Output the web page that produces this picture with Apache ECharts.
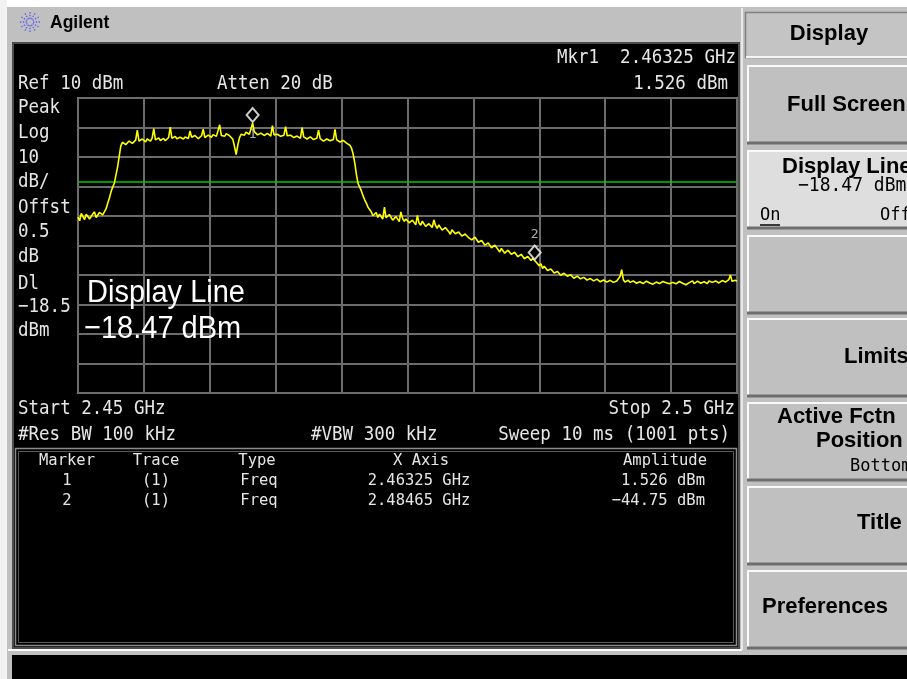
<!DOCTYPE html>
<html>
<head>
<meta charset="utf-8">
<script src="https://cdn.jsdelivr.net/npm/echarts@6/dist/echarts.min.js"></script>
<style>
html,body{margin:0;padding:0;background:#c0c0c0;overflow:hidden;}
#c{width:907px;height:679px;}
</style>
</head>
<body>
<div id="c"></div>
<script>
// ---------------- DATA ----------------
// Sweep frequencies (MHz), 0.125 MHz apart
const freqMHz = [
2450,2450.125,2450.25,2450.375,2450.5,2450.625,2450.75,2450.875,
2451,2451.125,2451.25,2451.375,2451.5,2451.625,2451.75,2451.875,
2452,2452.125,2452.25,2452.375,2452.5,2452.625,2452.75,2452.875,
2453,2453.125,2453.25,2453.375,2453.5,2453.625,2453.75,2453.875,
2454,2454.125,2454.25,2454.375,2454.5,2454.625,2454.75,2454.875,
2455,2455.125,2455.25,2455.375,2455.5,2455.625,2455.75,2455.875,
2456,2456.125,2456.25,2456.375,2456.5,2456.625,2456.75,2456.875,
2457,2457.125,2457.25,2457.375,2457.5,2457.625,2457.75,2457.875,
2458,2458.125,2458.25,2458.375,2458.5,2458.625,2458.75,2458.875,
2459,2459.125,2459.25,2459.375,2459.5,2459.625,2459.75,2459.875,
2460,2460.125,2460.25,2460.375,2460.5,2460.625,2460.75,2460.875,
2461,2461.125,2461.25,2461.375,2461.5,2461.625,2461.75,2461.875,
2462,2462.125,2462.25,2462.375,2462.5,2462.625,2462.75,2462.875,
2463,2463.125,2463.25,2463.375,2463.5,2463.625,2463.75,2463.875,
2464,2464.125,2464.25,2464.375,2464.5,2464.625,2464.75,2464.875,
2465,2465.125,2465.25,2465.375,2465.5,2465.625,2465.75,2465.875,
2466,2466.125,2466.25,2466.375,2466.5,2466.625,2466.75,2466.875,
2467,2467.125,2467.25,2467.375,2467.5,2467.625,2467.75,2467.875,
2468,2468.125,2468.25,2468.375,2468.5,2468.625,2468.75,2468.875,
2469,2469.125,2469.25,2469.375,2469.5,2469.625,2469.75,2469.875,
2470,2470.125,2470.25,2470.375,2470.5,2470.625,2470.75,2470.875,
2471,2471.125,2471.25,2471.375,2471.5,2471.625,2471.75,2471.875,
2472,2472.125,2472.25,2472.375,2472.5,2472.625,2472.75,2472.875,
2473,2473.125,2473.25,2473.375,2473.5,2473.625,2473.75,2473.875,
2474,2474.125,2474.25,2474.375,2474.5,2474.625,2474.75,2474.875,
2475,2475.125,2475.25,2475.375,2475.5,2475.625,2475.75,2475.875,
2476,2476.125,2476.25,2476.375,2476.5,2476.625,2476.75,2476.875,
2477,2477.125,2477.25,2477.375,2477.5,2477.625,2477.75,2477.875,
2478,2478.125,2478.25,2478.375,2478.5,2478.625,2478.75,2478.875,
2479,2479.125,2479.25,2479.375,2479.5,2479.625,2479.75,2479.875,
2480,2480.125,2480.25,2480.375,2480.5,2480.625,2480.75,2480.875,
2481,2481.125,2481.25,2481.375,2481.5,2481.625,2481.75,2481.875,
2482,2482.125,2482.25,2482.375,2482.5,2482.625,2482.75,2482.875,
2483,2483.125,2483.25,2483.375,2483.5,2483.625,2483.75,2483.875,
2484,2484.125,2484.25,2484.375,2484.5,2484.625,2484.75,2484.875,
2485,2485.125,2485.25,2485.375,2485.5,2485.625,2485.75,2485.875,
2486,2486.125,2486.25,2486.375,2486.5,2486.625,2486.75,2486.875,
2487,2487.125,2487.25,2487.375,2487.5,2487.625,2487.75,2487.875,
2488,2488.125,2488.25,2488.375,2488.5,2488.625,2488.75,2488.875,
2489,2489.125,2489.25,2489.375,2489.5,2489.625,2489.75,2489.875,
2490,2490.125,2490.25,2490.375,2490.5,2490.625,2490.75,2490.875,
2491,2491.125,2491.25,2491.375,2491.5,2491.625,2491.75,2491.875,
2492,2492.125,2492.25,2492.375,2492.5,2492.625,2492.75,2492.875,
2493,2493.125,2493.25,2493.375,2493.5,2493.625,2493.75,2493.875,
2494,2494.125,2494.25,2494.375,2494.5,2494.625,2494.75,2494.875,
2495,2495.125,2495.25,2495.375,2495.5,2495.625,2495.75,2495.875,
2496,2496.125,2496.25,2496.375,2496.5,2496.625,2496.75,2496.875,
2497,2497.125,2497.25,2497.375,2497.5,2497.625,2497.75,2497.875,
2498,2498.125,2498.25,2498.375,2498.5,2498.625,2498.75,2498.875,
2499,2499.125,2499.25,2499.375,2499.5,2499.625,2499.75,2499.875,
2500
];
// Trace 1 amplitude (dBm)
const ampDbm = [
-30.4,-31.6,-29.1,-30.2,-31.2,-29.4,-29.8,-31.0,
-30.9,-29.3,-28.6,-30.5,-30.1,-28.8,-28.2,-29.6,
-29.0,-27.6,-25.8,-24.0,-21.9,-20.3,-19.0,-16.2,
-13.5,-9.8,-6.2,-5.0,-4.9,-5.8,-5.3,-4.6,
-4.4,-5.4,-5.0,-4.3,-0.9,-4.6,-4.8,-3.9,
-4.5,-4.9,-3.9,-4.3,-4.6,-3.6,-0.4,-4.2,
-4.0,-3.5,-4.4,-3.8,-3.7,-4.5,-4.2,-3.4,
0.1,-3.7,-3.6,-3.0,-3.8,-4.1,-3.3,-2.8,
-3.9,-3.2,-2.9,-3.7,-1.2,-3.3,-3.5,-2.7,
-3.0,-3.8,-3.6,-2.8,-0.6,-3.4,-3.1,-2.6,
-2.9,-3.3,-2.4,-2.1,-3.0,-2.5,0.9,-2.7,
-2.6,-3.0,-2.1,-2.5,-2.8,-2.2,-4.0,-6.5,
-9.2,-6.0,-3.5,-2.3,-2.0,-2.6,-1.6,-2.2,
-2.3,-1.8,1.526,-1.4,-1.7,-2.5,-2.4,-1.9,
-1.9,-2.7,-2.6,-2.0,-2.2,-2.9,0.6,-2.5,
-2.9,-2.3,-2.4,-3.0,-3.1,-2.6,0.3,-2.8,
-3.3,-2.6,-2.7,-3.4,-3.6,-2.9,-3.0,-3.7,
0.0,-3.2,-3.4,-3.9,-3.9,-3.2,-3.3,-4.1,
-4.2,-3.6,-0.9,-3.8,-4.0,-4.6,-4.5,-3.9,
-3.9,-4.5,-4.7,-4.1,-0.6,-4.2,-4.4,-4.9,
-4.8,-4.4,-5.0,-5.3,-5.6,-6.0,-7.0,-9.0,
-12.0,-16.0,-19.0,-20.2,-21.5,-23.1,-24.5,-25.6,
-27.0,-27.8,-28.6,-29.9,-29.6,-28.8,-30.5,-29.4,
-29.9,-31.0,-27.0,-30.6,-31.2,-29.5,-30.1,-31.4,
-31.6,-30.2,-30.4,-31.9,-28.6,-30.8,-31.8,-31.0,
-31.0,-32.3,-32.6,-31.4,-31.9,-33.0,-29.8,-32.4,
-33.1,-31.8,-32.2,-33.5,-33.8,-32.6,-32.5,-33.9,
-31.3,-33.2,-34.2,-33.0,-33.6,-34.8,-35.0,-33.9,
-34.1,-35.3,-36.2,-34.7,-34.9,-36.0,-36.6,-35.4,
-35.2,-36.8,-37.4,-36.1,-36.0,-37.3,-37.0,-38.1,
-38.4,-37.2,-37.6,-38.9,-39.5,-38.3,-38.8,-39.9,
-40.4,-39.1,-39.6,-40.8,-41.0,-39.9,-40.2,-41.4,
-42.2,-41.0,-41.5,-42.6,-42.8,-41.6,-41.0,-43.0,
-43.4,-42.3,-42.6,-43.8,-44.1,-43.0,-43.3,-44.5,
-44.8,-43.7,-44.0,-45.1,-44.4,-44.75,-45.6,-45.0,
-46.9,-46.2,-47.8,-47.0,-47.6,-48.5,-48.9,-48.0,
-48.6,-49.3,-49.6,-48.8,-49.2,-50.1,-50.2,-49.4,
-49.6,-50.4,-50.6,-49.9,-50.2,-51.1,-51.0,-50.4,
-50.5,-51.3,-51.5,-50.8,-50.9,-51.7,-51.9,-51.2,
-51.3,-52.0,-52.1,-51.4,-51.6,-52.3,-52.4,-51.7,
-51.5,-52.4,-52.3,-51.8,-51.7,-52.5,-52.6,-52.0,
-51.9,-50.5,-48.2,-51.6,-52.4,-51.9,-51.8,-52.5,
-52.7,-52.0,-52.1,-52.8,-52.9,-52.3,-52.2,-52.9,
-52.8,-52.1,-51.9,-52.7,-52.6,-53.1,-53.0,-52.4,
-52.3,-52.9,-52.8,-52.2,-51.8,-52.6,-52.7,-53.0,
-53.1,-52.5,-52.4,-53.0,-52.9,-52.2,-52.0,-52.8,
-52.7,-53.3,-53.2,-52.6,-52.5,-52.0,-52.9,-52.4,
-52.1,-52.7,-52.8,-52.2,-52.3,-52.9,-52.9,-52.0,
-51.9,-52.5,-52.6,-52.0,-52.0,-52.7,-52.8,-51.9,
-51.7,-52.4,-52.5,-51.6,-50.0,-52.1,-52.6,-51.8,
-52.1
];
// Markers
const markerNames = ['1', '2'];
const markerFreqMHz = [2463.25, 2484.65];
const markerAmpDbm = [1.526, -44.75];
const markerFreqText = ['2.46325 GHz', '2.48465 GHz'];
const markerAmpText = ['1.526 dBm', '-44.75 dBm'];
// Display line
const displayLineDbm = -18.47;
// Scales
const startMHz = 2450, stopMHz = 2500, freqDivMHz = 5;
const refLevelDbm = 10, dbPerDiv = 10, numDivs = 10;
// Annotation texts
const leftLabels = ['Peak', 'Log', '10', 'dB/', 'Offst', '0.5', 'dB', 'Dl', '\u221218.5', 'dBm'];
const tableHeaders = ['Marker', 'Trace', 'Type', 'X Axis', 'Amplitude'];
const softkeyLabels = ['Full Screen', 'Display Line', '', 'Limits', 'Active Fctn', 'Title', 'Preferences'];

// ---------------- DRAW ----------------
const chart = echarts.init(document.getElementById('c'), null, {renderer: 'canvas'});

const MONO = '"DejaVu Sans Mono", "Liberation Mono", monospace';
const SANS = '"Liberation Sans", Arial, sans-serif';
const SCR = '#e6e6e6';

function T(text, x, y, o) {
  o = o || {};
  return {
    type: 'text', x: x, y: y, z: 100, silent: true,
    scaleY: o.sy || 1,
    style: {
      text: text, fill: o.fill || SCR,
      font: o.font || ('17.5px ' + MONO),
      textAlign: o.align || 'left', align: o.align || 'left',
      textVerticalAlign: 'middle', verticalAlign: 'middle'
    }
  };
}
function R(x, y, w, h, fill, stroke, lw, z) {
  return { type: 'rect', z: z == null ? -10 : z, silent: true,
    shape: {x: x, y: y, width: w, height: h},
    style: {fill: fill || 'none', stroke: stroke || null, lineWidth: lw || 0} };
}
function L(x1, y1, x2, y2, stroke, lw, z, dash) {
  return { type: 'line', z: z == null ? -9 : z, silent: true,
    shape: {x1: x1, y1: y1, x2: x2, y2: y2},
    style: {stroke: stroke, lineWidth: lw || 1, lineDash: dash || null} };
}

const g = [];
// frame
g.push(R(0, 0, 907, 7, '#ffffff'));
g.push(R(0, 0, 7, 679, '#f2f2f2'));
// main black screen
g.push(R(13, 43, 726, 605, '#000000', '#4c4c4c', 2));
// bottom strip
g.push(L(8, 650, 742, 650, '#ffffff', 2));
g.push(R(12, 655, 895, 24, '#000000'));
// marker table box
g.push(R(15.5, 448.5, 721, 197, null, '#8c8c8c', 1.5, -8));
g.push(R(18.5, 451.5, 715, 191, null, '#5c5c5c', 1, -8));
// softkey panel
g.push(L(742, 8, 742, 650, '#e8e8e8', 2));
g.push(R(745.5, 12.5, 170, 45, '#c4c4c4', '#808080', 1.5));
g.push(L(746, 57, 907, 57, '#f4f4f4', 2));
const keyTops = [65, 150, 235, 318, 402, 486, 570];
keyTops.forEach(function (t, i) {
  g.push(R(747, t, 170, 78, i === 1 ? '#dedede' : '#c0c0c0'));
  g.push(L(747, t + 1, 907, t + 1, '#fafafa', 2));
  g.push(L(748, t, 748, t + 78, '#fafafa', 2));
  g.push(L(747, t + 78, 907, t + 78, '#6e6e6e', 3));
});
// Agilent logo (dotted starburst)
const cx = 30, cy = 22;
for (let k = 0; k < 12; k++) {
  const a = k * Math.PI / 6;
  g.push(L(cx + 3 * Math.cos(a), cy + 3 * Math.sin(a), cx + 10 * Math.cos(a), cy + 10 * Math.sin(a), '#6060f0', 1.3, 50, [1.4, 1.4]));
}
g.push(T('Agilent', 50, 23, {fill: '#000', font: 'bold 17.5px ' + SANS, sy: 1.08}));

// header texts
g.push(T('Ref ' + refLevelDbm + ' dBm', 18, 84, {sy: 1.12}));
g.push(T('Atten 20 dB', 217, 84, {sy: 1.12}));
g.push(T('Mkr1  ' + markerFreqText[0], 736, 58, {align: 'right', sy: 1.12}));
g.push(T(markerAmpText[0], 728, 84, {align: 'right', sy: 1.12}));
const leftY = [108, 133, 158, 182, 208, 232, 257, 284, 307, 331];
leftLabels.forEach(function (s, i) { g.push(T(s, 18, leftY[i], {sy: 1.12})); });
// active function
g.push(T('Display Line', 87, 293, {fill: '#ffffff', font: '29px ' + SANS, sy: 1.1}));
g.push(T('\u221218.47 dBm', 84, 329, {fill: '#ffffff', font: '29px ' + SANS, sy: 1.1}));
// bottom annotation
g.push(T('Start 2.45 GHz', 18, 409, {sy: 1.12}));
g.push(T('Stop 2.5 GHz', 735, 409, {align: 'right', sy: 1.12}));
g.push(T('#Res BW 100 kHz', 18, 435, {sy: 1.12}));
g.push(T('#VBW 300 kHz', 311, 435, {sy: 1.12}));
g.push(T('Sweep 10 ms (1001 pts)', 730, 435, {align: 'right', sy: 1.12}));
// marker table
const TF = '15.5px ' + MONO;
const colX = [67, 156, 257, 421, 707];
tableHeaders.forEach(function (s, i) {
  g.push(T(s, colX[i], 461, {font: TF, align: i === 4 ? 'right' : 'center', sy: 1.05}));
});
markerNames.forEach(function (m, i) {
  const y = 481 + i * 19.5;
  g.push(T(m, colX[0], y, {font: TF, align: 'center', sy: 1.05}));
  g.push(T('(1)', colX[1], y, {font: TF, align: 'center', sy: 1.05}));
  g.push(T('Freq', colX[2] + 2, y, {font: TF, align: 'center', sy: 1.05}));
  g.push(T(markerFreqText[i], colX[3] - 2, y, {font: TF, align: 'center', sy: 1.05}));
  g.push(T(markerAmpText[i].replace('-', '\u2212'), 705, y, {font: TF, align: 'right', sy: 1.05}));
});
// softkey texts
const KB = 'bold 22px ' + SANS;
g.push(T('Display', 829, 34, {fill: '#000', font: KB, align: 'center'}));
const keyTextPos = [[787, 105], [782, 167], null, [844, 357], [777, 417], [857, 523], [762, 607]];
softkeyLabels.forEach(function (s, i) {
  if (!s) return;
  g.push(T(s, keyTextPos[i][0], keyTextPos[i][1], {fill: '#000', font: KB}));
});
g.push(T('Position', 816, 441, {fill: '#000', font: KB}));
g.push(T('\u221218.47 dBm', 798, 186, {fill: '#000', font: '18px ' + MONO, sy: 1.08}));
g.push(T('On', 760, 215, {fill: '#000', font: '17px ' + MONO, sy: 1.08}));
g.push(L(760, 225, 780, 225, '#000', 1.5, 100));
g.push(T('Off', 880, 215, {fill: '#000', font: '17px ' + MONO, sy: 1.08}));
g.push(T('Bottom', 850, 466, {fill: '#000', font: '17px ' + MONO, sy: 1.08}));

const traceData = freqMHz.map(function (f, i) { return [f, ampDbm[i]]; });
const markerData = markerFreqMHz.map(function (f, i) {
  return {
    value: [f, markerAmpDbm[i]],
    symbolOffset: [0, i === 0 ? -8 : -7],
    label: {
      show: true, formatter: markerNames[i],
      position: i === 0 ? 'bottom' : 'top', distance: i === 0 ? 5 : 3,
      color: '#d8d8d8', fontFamily: 'DejaVu Sans Mono', fontSize: 13
    }
  };
});

chart.setOption({
  animation: false,
  backgroundColor: '#c0c0c0',
  graphic: { elements: g },
  grid: {
    left: 78, top: 98, width: 659, height: 295,
    show: true, borderColor: '#858585', borderWidth: 2, backgroundColor: 'transparent', z: 5
  },
  xAxis: {
    type: 'value', min: startMHz, max: stopMHz, interval: freqDivMHz, z: 5,
    axisLine: {show: false}, axisTick: {show: false}, axisLabel: {show: false},
    splitLine: {show: true, lineStyle: {color: '#6c6c6c', width: 2}}
  },
  yAxis: {
    type: 'value', min: refLevelDbm - dbPerDiv * numDivs, max: refLevelDbm, interval: dbPerDiv, z: 5,
    axisLine: {show: false}, axisTick: {show: false}, axisLabel: {show: false},
    splitLine: {show: true, lineStyle: {color: '#6c6c6c', width: 2}}
  },
  series: [
    {
      type: 'line', data: traceData, showSymbol: false, symbol: 'none', z: 10,
      lineStyle: {color: '#ffff00', width: 1.6}, clip: true,
      markLine: {
        silent: true, symbol: 'none', label: {show: false},
        lineStyle: {color: '#00c800', width: 1.5, type: 'solid'},
        data: [{yAxis: displayLineDbm}]
      }
    },
    {
      type: 'scatter', data: markerData, symbol: 'diamond', symbolSize: [12, 14], z: 12,
      itemStyle: {color: '#000', borderColor: '#ffffff', borderWidth: 2}
    }
  ]
});
</script>
</body>
</html>
